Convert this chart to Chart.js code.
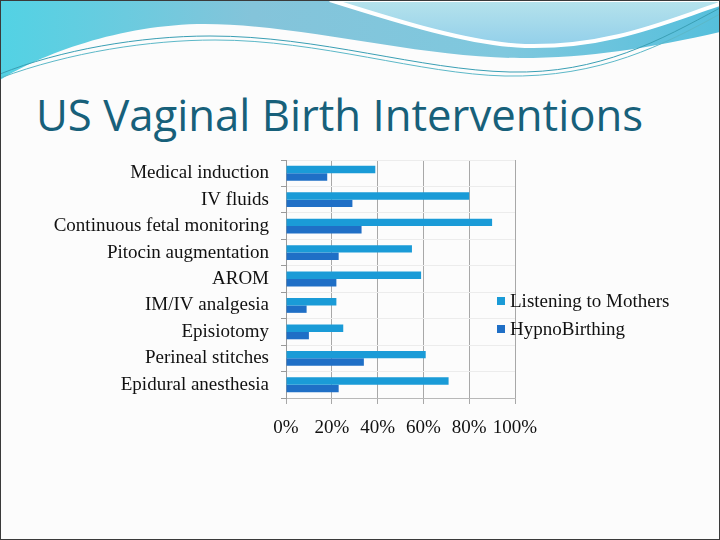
<!DOCTYPE html>
<html>
<head>
<meta charset="utf-8">
<script src="https://cdn.jsdelivr.net/npm/chart.js@4/dist/chart.umd.min.js"></script>
<style>
    html, body { margin: 0; padding: 0; }
    body { width: 720px; height: 540px; position: relative; overflow: hidden; background: #fcfcfc; }
    .frame { position: absolute; left: 0; top: 0; width: 718px; height: 538px; border: 1px solid #3a3a3a; }
    .wave { position: absolute; left: 0; top: 0; }
    .title {
        position: absolute; left: 36px; top: 84px;
        font-family: "Open Sans", sans-serif; font-size: 43.7px; color: #17607a;
        white-space: nowrap;
    }
    .chart-box { position: absolute; left: 0; top: 0; width: 720px; height: 540px; }
    .legend { position: absolute; left: 497px; top: 290px; font-family: "Liberation Serif", serif; font-size: 19px; color: #111; }
    .legend-item { height: 28px; line-height: 22px; white-space: nowrap; }
    .legend-swatch { display: inline-block; width: 8px; height: 8px; margin-right: 5px; vertical-align: 2px; }
</style>
</head>
<body>
<svg class="wave" width="720" height="90">
    <defs>
        <linearGradient id="gBlue" x1="0" y1="0" x2="1" y2="0">
            <stop offset="0" stop-color="#52d2e4"/>
            <stop offset="0.35" stop-color="#84c4da"/>
            <stop offset="0.7" stop-color="#7fc8de"/>
            <stop offset="1" stop-color="#55bfdc"/>
        </linearGradient>
        <linearGradient id="gLight" x1="0" y1="0" x2="0" y2="1">
            <stop offset="0" stop-color="#b6e3ec"/>
            <stop offset="1" stop-color="#92cfea"/>
        </linearGradient>
    </defs>
    <path d="M0,0 H720 V32 C650,48 590,58 520,58 C420,58 300,24 205,24 C120,24 40,55 0,80 Z" fill="url(#gBlue)"/>
    <path d="M330,0 C400,22 470,44 525,46 C610,48 670,20 720,4 V0 Z" fill="url(#gLight)" stroke="#ffffff" stroke-width="4"/>
    <path d="M0,74 C60,50 140,36 210,36 C320,36 420,70 510,72 C600,74 660,40 720,8" fill="none" stroke="#3a9fb4" stroke-width="1"/>
    <path d="M0,78 C70,52 150,40 215,40 C320,40 420,74 505,76 C600,78 665,44 720,14" fill="none" stroke="#5cb8c8" stroke-width="1"/>
</svg>
<div class="frame"></div>
<div class="title">US Vaginal Birth Interventions</div>
<div class="chart-box"><canvas id="chart_interventions"></canvas></div>
<div class="legend" id="legend_interventions"></div>

<script>
const categories = [
    "Medical induction",
    "IV fluids",
    "Continuous fetal monitoring",
    "Pitocin augmentation",
    "AROM",
    "IM/IV analgesia",
    "Episiotomy",
    "Perineal stitches",
    "Epidural anesthesia"
];
const seriesNames = ["Listening to Mothers", "HypnoBirthing"];
const listeningToMothers = [39, 80, 90, 55, 59, 22, 25, 61, 71];
const hypnoBirthing = [18, 29, 33, 23, 22, 9, 10, 34, 23];
const xTickValues = [0, 20, 40, 60, 80, 100];

const seriesColors = ["#1a9bd7", "#1f6fc6"];
const labelFont = { family: "'Liberation Serif', serif", size: 19 };

document.addEventListener("DOMContentLoaded", renderChart);

function renderChart() {
    let canvas = document.getElementById("chart_interventions");
    let ctx = canvas.getContext("2d");

    let chart = new Chart(ctx, {
        type: "bar",
        data: {
            labels: categories,
            datasets: [
                { label: seriesNames[0], data: listeningToMothers, backgroundColor: seriesColors[0] },
                { label: seriesNames[1], data: hypnoBirthing, backgroundColor: seriesColors[1] }
            ]
        },
        options: {
            indexAxis: "y",
            responsive: true,
            maintainAspectRatio: false,
            animation: false,
            layout: { padding: { left: 0, top: 160, right: 205, bottom: 60 } },
            datasets: { bar: { categoryPercentage: 0.56, barPercentage: 1 } },
            plugins: { legend: { display: false }, tooltip: { enabled: false } },
            scales: {
                x: {
                    min: 0,
                    max: 100,
                    afterBuildTicks: scale => { scale.ticks = xTickValues.map(v => ({ value: v })); },
                    afterFit: scale => { scale.height = 540 - 398 - 60; },
                    grid: { color: "#a8a8a8", tickColor: "#a8a8a8", tickLength: 6 },
                    border: { color: "#b8b8b8" },
                    ticks: {
                        font: labelFont, color: "#111", padding: 13,
                        maxRotation: 0, minRotation: 0, autoSkip: false,
                        callback: v => v + "%"
                    }
                },
                y: {
                    afterFit: scale => { scale.width = 286; },
                    grid: { color: "#ececec", tickColor: "#9a9a9a", tickLength: 5 },
                    border: { color: "#9a9a9a" },
                    ticks: { font: labelFont, color: "#111", padding: 12 }
                }
            }
        }
    });

    renderLegend(chart);
}

function renderLegend(chart) {
    let box = document.getElementById("legend_interventions");
    box.innerHTML = "";
    chart.data.datasets.forEach(ds => {
        let item = document.createElement("div");
        item.className = "legend-item";
        item.innerHTML = `<span class="legend-swatch" style="background:${ds.backgroundColor}"></span>${ds.label}`;
        box.appendChild(item);
    });
}
</script>
</body>
</html>
